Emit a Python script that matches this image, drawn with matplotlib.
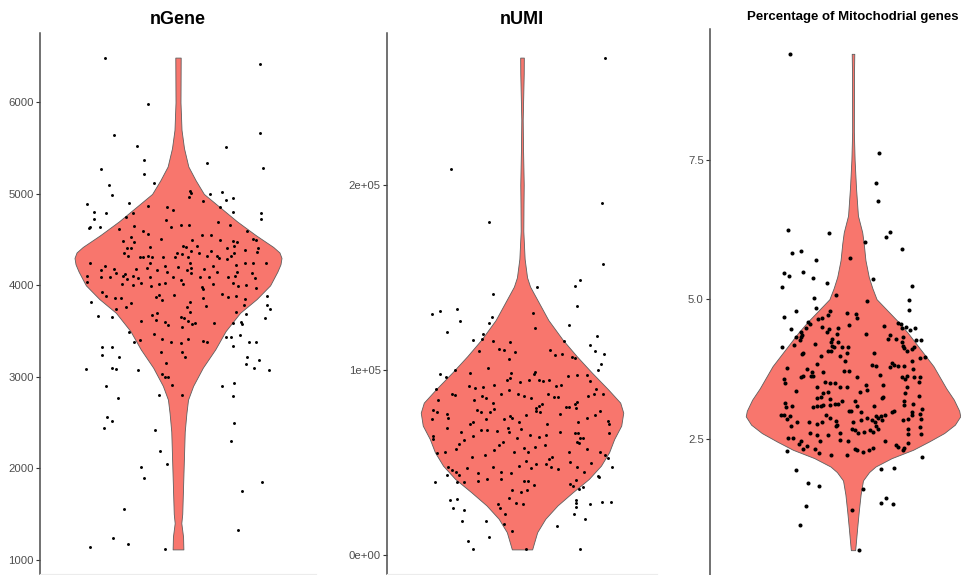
import numpy as np
import matplotlib
matplotlib.use("Agg")
import matplotlib.pyplot as plt

plt.rcParams['font.family'] = ['Liberation Sans', 'DejaVu Sans']

# ---------------------------------------------------------------------------
# Per-cell QC metrics: (horizontal jitter offset, value)
# ---------------------------------------------------------------------------
ngene_cells = [
    (-0.317, 6491), (0.355, 6425), (-0.132, 5978), (-0.277, 5647), (0.357, 5669), (-0.180, 5527),
    (0.210, 5516), (-0.149, 5371), (0.125, 5335), (-0.336, 5273), (0.370, 5280), (-0.148, 5222),
    (-0.103, 5120), (-0.300, 5095), (-0.286, 4993), (0.052, 5029), (0.058, 5007), (0.046, 4971),
    (0.138, 5000), (0.191, 5025), (0.238, 4960), (0.210, 4935), (-0.397, 4891), (-0.212, 4902),
    (0.110, 4920), (0.359, 4789), (-0.132, 4869), (-0.049, 4855), (-0.023, 4822), (0.181, 4862),
    (-0.365, 4800), (-0.314, 4789), (-0.194, 4789), (-0.228, 4749), (0.241, 4800), (0.359, 4727),
    (-0.365, 4727), (-0.383, 4633), (-0.388, 4622), (-0.339, 4633), (-0.257, 4615), (-0.051, 4716),
    (-0.030, 4633), (0.014, 4662), (0.048, 4662), (0.175, 4695), (0.225, 4662), (0.300, 4597),
    (-0.152, 4589), (-0.130, 4567), (-0.193, 4644), (0.104, 4549), (0.142, 4549), (-0.072, 4506),
    (-0.206, 4524), (-0.238, 4487), (-0.190, 4473), (0.062, 4498), (0.326, 4506), (0.338, 4491),
    (0.239, 4480), (0.258, 4473), (0.181, 4498), (0.023, 4425), (0.035, 4418), (0.084, 4425),
    (0.245, 4425), (-0.222, 4404), (-0.206, 4404), (-0.122, 4418), (-0.004, 4353), (0.016, 4346),
    (0.057, 4371), (0.093, 4353), (0.142, 4371), (0.168, 4316), (0.212, 4407), (0.245, 4353),
    (0.293, 4389), (0.346, 4404), (0.345, 4364), (-0.233, 4353), (-0.216, 4316), (-0.167, 4313),
    (-0.151, 4309), (-0.130, 4316), (-0.114, 4309), (-0.067, 4306), (-0.014, 4313), (0.042, 4309),
    (0.126, 4316), (0.177, 4298), (0.213, 4287), (0.230, 4316), (-0.383, 4240), (-0.317, 4207),
    (-0.277, 4178), (-0.120, 4244), (-0.057, 4215), (0.000, 4200), (0.054, 4244), (0.055, 4186),
    (0.112, 4178), (0.154, 4215), (0.252, 4218), (0.290, 4244), (0.326, 4244), (0.384, 4247),
    (-0.333, 4171), (-0.271, 4135), (-0.230, 4127), (-0.184, 4178), (-0.133, 4186), (-0.093, 4171),
    (-0.049, 4149), (0.038, 4164), (0.057, 4135), (0.096, 4091), (0.135, 4091), (0.170, 4149),
    (0.258, 4142), (0.322, 4135), (-0.397, 4106), (-0.336, 4091), (-0.296, 4091), (-0.241, 4106),
    (-0.196, 4098), (-0.220, 4069), (-0.172, 4077), (-0.123, 4091), (-0.022, 4091), (0.014, 4062),
    (0.219, 4091), (0.246, 4098), (0.333, 4084), (-0.397, 4033), (-0.242, 4018), (-0.196, 4004),
    (-0.159, 4026), (-0.116, 3989), (-0.083, 4018), (-0.055, 4029), (0.022, 4011), (0.104, 3982),
    (0.109, 3960), (0.152, 4018), (0.238, 4026), (0.261, 3989), (0.297, 4004), (0.341, 3967),
    (-0.380, 3822), (-0.332, 3931), (-0.314, 3888), (-0.274, 3859), (-0.346, 3663), (-0.286, 3656),
    (-0.271, 3739), (-0.246, 3866), (-0.225, 3765), (-0.203, 3812), (-0.097, 3873), (-0.083, 3895),
    (-0.068, 3837), (-0.016, 3895), (0.052, 3815), (0.041, 3764), (0.110, 3859), (0.123, 3775),
    (0.191, 3909), (0.217, 3873), (0.251, 3880), (0.290, 3851), (0.288, 3786), (0.387, 3880),
    (0.388, 3786), (0.399, 3736), (0.377, 3645), (-0.213, 3493), (-0.193, 3384), (-0.159, 3609),
    (-0.167, 3402), (-0.112, 3674), (-0.093, 3703), (-0.097, 3620), (-0.106, 3464), (-0.070, 3413),
    (-0.055, 3601), (-0.045, 3565), (-0.030, 3377), (0.012, 3656), (0.026, 3638), (0.045, 3612),
    (0.054, 3710), (0.062, 3576), (0.075, 3591), (0.043, 3409), (0.016, 3547), (0.157, 3583),
    (0.109, 3395), (0.126, 3384), (0.210, 3438), (0.232, 3438), (0.239, 3337), (0.239, 3591),
    (0.254, 3710), (0.270, 3457), (0.272, 3601), (0.280, 3572), (0.297, 3692), (0.309, 3377),
    (0.339, 3380), (0.354, 3185), (0.300, 3214), (0.297, 3141), (0.332, 3094), (0.396, 3069),
    (-0.399, 3083), (-0.288, 3326), (-0.329, 3326), (-0.332, 3236), (-0.286, 3101), (-0.268, 3083),
    (-0.257, 3221), (-0.174, 3069), (-0.074, 3268), (-0.054, 3156), (0.029, 3214), (0.012, 3366),
    (0.017, 3275), (-0.068, 3029), (-0.058, 2993), (-0.042, 2993), (-0.025, 2909), (-0.083, 2804),
    (0.017, 2804), (0.193, 2895), (0.242, 2928), (0.239, 2786), (-0.312, 2895), (-0.259, 2765),
    (-0.309, 2558), (-0.288, 2518), (-0.323, 2435), (-0.100, 2420), (-0.078, 2189), (-0.048, 2044),
    (-0.161, 2015), (-0.149, 1888), (0.242, 2496), (0.230, 2301), (0.280, 1754), (0.364, 1848),
    (-0.236, 1554), (-0.283, 1236), (-0.216, 1167), (-0.383, 1138), (-0.055, 1112), (0.259, 1323),
]

numi_cells = [
    (0.370, 268600), (-0.317, 208300), (-0.147, 179700), (0.356, 190300), (0.359, 157300),
    (0.258, 148500), (0.237, 145600), (0.065, 144900), (-0.130, 140800),
    (0.243, 134400), (0.047, 130800), (0.209, 124500), (-0.400, 130300), (-0.366, 131700),
    (-0.287, 132800), (-0.274, 126200), (-0.335, 120400), (-0.147, 125400), (-0.133, 128500),
    (-0.173, 119200), (-0.178, 116800), (-0.219, 116300), (-0.193, 110400), (-0.127, 115900),
    (0.056, 122900), (-0.052, 115200), (0.185, 115900), (0.304, 113400), (0.333, 118300),
    (0.323, 110000), (0.364, 108600), (0.351, 103400), (0.336, 99800), (0.236, 106300),
    (0.221, 107200), (0.124, 110900), (0.145, 107900), (0.176, 108400), (-0.101, 111100),
    (-0.081, 110600), (-0.033, 109800), (-0.058, 105700), (-0.384, 90000), (-0.366, 98000),
    (-0.339, 96200), (-0.299, 100200), (-0.231, 98200), (-0.151, 100900), (-0.050, 98600),
    (-0.055, 95700), (0.058, 98900), (0.055, 97700),
    (-0.311, 87300), (-0.296, 86700), (-0.236, 91400), (-0.207, 90500), (-0.175, 90900),
    (-0.126, 92100), (-0.068, 94400), (-0.007, 93500), (0.031, 94400), (0.076, 94400),
    (0.095, 94100), (0.120, 94400), (0.150, 91400), (0.173, 91800), (0.206, 96800),
    (0.246, 97300), (0.287, 97500), (0.301, 94100), (0.327, 89600), (0.361, 86900), (0.116, 87300),
    (-0.373, 83700), (-0.396, 78500), (-0.378, 77400), (-0.213, 83700), (-0.176, 86000),
    (-0.160, 85100), (-0.130, 82300), (-0.093, 86900), (-0.059, 89200), (-0.016, 86900),
    (0.010, 86000), (0.039, 85100), (0.064, 79700), (0.076, 80600), (0.090, 81900),
    (0.142, 85700), (0.159, 85700), (0.197, 79900), (0.210, 80300), (0.234, 81900),
    (0.246, 83000), (0.293, 86000), (0.320, 87300),
    (-0.333, 76500), (-0.327, 74000), (-0.399, 73500), (-0.231, 71100), (-0.219, 71700),
    (-0.200, 78300), (-0.181, 77100), (-0.159, 73800), (-0.141, 77100), (-0.126, 78800),
    (-0.080, 73800), (-0.052, 75100), (-0.043, 74200), (-0.012, 72000), (0.018, 75800),
    (0.062, 78000), (0.081, 77100), (0.110, 71100), (0.170, 76300), (0.240, 79600),
    (0.250, 72200), (0.290, 74200), (0.326, 75600), (0.345, 77800), (0.384, 72400), (0.388, 70800),
    (-0.332, 68600), (-0.270, 66700), (-0.219, 64500), (-0.184, 67900), (-0.154, 67700),
    (-0.110, 67200), (-0.061, 68500), (-0.058, 66300), (-0.022, 63100), (-0.003, 68100),
    (0.037, 64900), (0.077, 63600), (0.107, 65200), (0.169, 66300), (0.234, 65900),
    (0.250, 65900), (0.259, 63100), (0.271, 63100), (0.385, 65900), (-0.397, 64500), (-0.396, 62700),
    (-0.281, 60000), (-0.256, 62400), (-0.222, 53000), (-0.166, 54300), (-0.126, 57000),
    (-0.101, 59700), (-0.084, 61300), (-0.034, 55600), (0.007, 58100), (0.028, 55600),
    (0.056, 58200), (0.101, 59700), (0.132, 52900), (0.121, 52000), (0.207, 55600),
    (0.244, 60900), (0.253, 60400), (0.289, 57300), (0.347, 55600), (0.370, 54100),
    (0.382, 52500), (-0.378, 55400), (-0.344, 55700), (-0.295, 57200),
    (-0.327, 47500), (-0.313, 46200), (-0.295, 45200), (-0.279, 43400), (-0.332, 43400),
    (-0.243, 47000), (-0.197, 44300), (-0.156, 41200), (-0.127, 47800), (-0.092, 45200),
    (-0.050, 44300), (-0.012, 48400), (0.016, 51100), (0.041, 47300), (0.062, 49300),
    (0.108, 49300), (0.130, 47500), (0.160, 46400), (0.212, 50500), (0.244, 47800),
    (0.274, 44800), (0.305, 49800), (0.338, 43000), (0.342, 42100), (0.399, 47500), (-0.385, 39800),
    (-0.290, 39400), (-0.256, 39800), (-0.196, 40300), (-0.095, 41200), (0.007, 40000),
    (0.028, 40100), (0.053, 37800), (-0.003, 34400), (-0.044, 35500), (0.024, 35500),
    (0.212, 38500), (0.240, 40700), (0.270, 36700), (0.255, 36000), (0.228, 37600),
    (-0.321, 29900), (-0.290, 30300), (-0.307, 25400), (-0.258, 24400), (-0.108, 27800),
    (-0.096, 25800), (-0.056, 31000), (-0.025, 28100), (-0.077, 22200), (0.006, 27600),
    (0.239, 29900), (0.241, 28300), (0.241, 26300), (0.302, 27600), (0.356, 29000),
    (0.397, 28700), (0.230, 22400), (0.281, 19700), (-0.265, 18300), (-0.160, 18300),
    (-0.081, 16800), (-0.148, 9700), (-0.044, 13100), (0.154, 16100), (-0.239, 7700),
    (-0.216, 3200), (0.018, 3200), (0.259, 3200),
]

mito_cells = [
    (-0.263, 9.40), (0.108, 7.62), (0.097, 7.09), (0.105, 6.76), (-0.272, 6.24), (-0.102, 6.18),
    (0.157, 6.21), (0.137, 6.12), (0.050, 6.02), (-0.220, 5.86), (-0.254, 5.82), (0.206, 5.90),
    (-0.154, 5.71), (-0.011, 5.74), (-0.211, 5.49), (-0.291, 5.47), (-0.270, 5.41), (-0.168, 5.38),
    (0.085, 5.37), (-0.109, 5.29), (-0.297, 5.21), (0.249, 5.24), (-0.071, 5.08), (-0.162, 5.03),
    (0.059, 4.97), (0.234, 4.98), (0.234, 4.81), (-0.241, 4.79), (-0.290, 4.69), (-0.154, 4.85),
    (-0.098, 4.78), (-0.104, 4.71), (-0.027, 4.76), (0.013, 4.74), (0.015, 4.67), (-0.132, 4.66),
    (-0.147, 4.65), (-0.190, 4.60), (-0.181, 4.56), (-0.199, 4.49), (-0.217, 4.41), (-0.213, 4.36),
    (-0.261, 4.47), (-0.129, 4.50), (-0.099, 4.47), (-0.111, 4.42), (-0.062, 4.48), (-0.067, 4.38),
    (-0.088, 4.29), (-0.094, 4.23), (-0.062, 4.23), (-0.087, 4.16), (-0.094, 4.08), (-0.078, 4.15),
    (-0.015, 4.54), (0.056, 4.38), (0.130, 4.52), (0.190, 4.58), (0.200, 4.55), (0.204, 4.48),
    (0.224, 4.50), (0.238, 4.44), (0.261, 4.49), (0.265, 4.27), (0.284, 4.27), (0.155, 4.35),
    (0.181, 4.29), (0.211, 4.33), (0.204, 4.23), (0.211, 4.17), (0.216, 4.12), (0.225, 4.08),
    (0.246, 4.11), (0.256, 4.14), (0.146, 4.29), (-0.241, 4.33), (-0.218, 4.33), (-0.223, 4.26),
    (-0.248, 4.18), (-0.296, 4.15), (-0.209, 4.04), (-0.213, 4.01), (-0.160, 4.19), (-0.136, 3.98),
    (-0.106, 4.08), (-0.046, 4.14), (-0.020, 4.15), (-0.024, 4.04), (-0.034, 3.90), (-0.056, 3.98),
    (0.088, 4.03), (0.078, 3.82), (0.095, 3.81), (-0.015, 3.72), (-0.036, 3.71), (-0.151, 3.83),
    (-0.171, 3.69), (-0.195, 3.74), (-0.167, 3.63), (-0.125, 3.69), (-0.275, 3.76), (-0.291, 3.57),
    (-0.287, 3.49), (-0.218, 3.60), (-0.211, 3.63), (-0.178, 3.62), (0.015, 3.60), (0.112, 3.65),
    (0.164, 3.86), (0.172, 3.82), (0.190, 3.81), (0.213, 3.80), (0.155, 3.78), (0.246, 3.90),
    (0.252, 3.75), (0.282, 3.95), (0.303, 3.96), (-0.150, 3.43), (-0.118, 3.52), (-0.097, 3.50),
    (-0.074, 3.50), (-0.126, 3.31), (-0.106, 3.34), (-0.241, 3.35), (-0.053, 3.43), (-0.024, 3.43),
    (0.053, 3.47), (0.057, 3.38), (0.029, 3.34), (0.127, 3.47), (0.127, 3.24), (0.207, 3.60),
    (0.218, 3.57), (0.227, 3.63), (0.225, 3.43), (0.220, 3.31), (0.258, 3.61), (0.282, 3.60),
    (0.276, 3.27), (0.276, 3.52), (-0.136, 3.25), (-0.150, 3.22), (-0.095, 3.21), (-0.076, 3.12),
    (-0.287, 3.14), (-0.283, 3.07), (-0.255, 3.08), (-0.169, 3.07), (-0.150, 3.08), (-0.136, 3.09),
    (-0.126, 3.11), (-0.097, 3.10), (-0.063, 3.13), (-0.048, 3.18), (0.008, 3.17), (0.018, 3.08),
    (0.088, 3.09), (0.120, 3.22), (0.174, 3.00), (0.216, 3.17), (0.214, 3.11), (0.251, 3.12),
    (0.289, 3.03), (-0.300, 2.93), (-0.289, 2.92), (-0.276, 2.86), (-0.265, 2.91), (-0.237, 2.80),
    (-0.183, 2.80), (-0.151, 2.77), (-0.132, 2.79), (-0.113, 2.93), (-0.097, 2.87), (-0.073, 2.81),
    (-0.069, 2.74), (-0.017, 3.00), (-0.008, 2.99), (0.001, 2.80), (0.034, 2.97), (0.032, 2.84),
    (0.060, 2.87), (0.078, 2.83), (0.092, 2.80), (0.097, 2.91), (0.106, 2.87), (0.116, 2.91),
    (0.122, 2.83), (0.133, 2.92), (0.164, 2.98), (0.211, 2.83), (0.232, 2.86), (0.249, 2.92),
    (0.248, 2.97), (0.282, 2.95), (0.286, 2.86), (0.282, 2.71), (0.284, 2.59), (-0.261, 2.73),
    (-0.272, 2.52), (-0.251, 2.52), (-0.218, 2.46), (-0.225, 2.41), (-0.211, 2.32), (-0.192, 2.36),
    (-0.181, 2.61), (-0.150, 2.57), (-0.139, 2.45), (-0.160, 2.31), (-0.144, 2.24), (-0.104, 2.57),
    (-0.071, 2.73), (-0.053, 2.60), (-0.055, 2.48), (-0.022, 2.46), (-0.006, 2.68), (0.010, 2.65),
    (0.022, 2.61), (0.046, 2.62), (0.071, 2.65), (0.083, 2.62), (0.095, 2.73), (0.104, 2.68),
    (0.010, 2.32), (0.015, 2.30), (0.043, 2.26), (0.067, 2.29), (0.084, 2.33), (0.133, 2.45),
    (0.179, 2.38), (0.190, 2.35), (0.209, 2.29), (0.214, 2.34), (0.230, 2.58), (0.232, 2.67),
    (0.231, 2.42), (-0.279, 2.28), (-0.092, 2.20), (-0.024, 2.20), (0.290, 2.17),
    (-0.238, 1.94), (-0.189, 1.70), (-0.143, 1.65), (-0.197, 1.30), (-0.224, 0.96), (0.118, 1.95),
    (0.171, 1.97), (0.041, 1.60), (0.140, 1.44), (0.116, 1.35), (0.168, 1.32), (-0.006, 1.22),
    (0.025, 0.50),
]

# Violin density profiles: value level -> density relative to the panel's peak
ngene_density_levels = [1112, 1250, 1400, 1500, 1800, 2100, 2400, 2600, 2750, 2900, 3100, 3300,
                        3500, 3700, 3850, 4000, 4150, 4230, 4300, 4360, 4420, 4550, 4700, 4850,
                        5000, 5150, 5300, 5500, 5700, 6000, 6491]
ngene_density = [0.052, 0.049, 0.032, 0.041, 0.049, 0.057, 0.065, 0.081, 0.097, 0.146, 0.24, 0.36,
                 0.46, 0.60, 0.76, 0.89, 0.96, 0.99, 1.0, 0.98, 0.92, 0.75, 0.57, 0.41,
                 0.25, 0.17, 0.10, 0.058, 0.034, 0.024, 0.026]

numi_density_levels = [3200, 12500, 19700, 26900, 34000, 41200, 48400, 55600, 62700, 70000, 77000,
                       82400, 89600, 98600, 107500, 116500, 127000, 138000, 145000, 150000,
                       160000, 175000, 190000, 200000, 220000, 235000, 260000, 268600]
numi_density = [0.10, 0.15, 0.23, 0.35, 0.50, 0.66, 0.78, 0.86, 0.91, 0.98, 1.0,
                0.97, 0.85, 0.69, 0.54, 0.40, 0.26, 0.15, 0.08, 0.05,
                0.026, 0.013, 0.015, 0.017, 0.010, 0.007, 0.017, 0.018]

mito_density_levels = [0.50, 0.6, 0.9, 1.2, 1.5, 1.75, 1.9, 2.0, 2.15, 2.3, 2.45, 2.6, 2.75, 2.9,
                       3.0, 3.2, 3.4, 3.6, 3.8, 4.0, 4.2, 4.4, 4.6, 4.8, 5.0, 5.2, 5.4, 5.7,
                       6.0, 6.2, 6.5, 7.0, 7.5, 8.0, 9.0, 9.40]
mito_density = [0.02, 0.025, 0.039, 0.054, 0.071, 0.093, 0.15, 0.21, 0.36, 0.56, 0.71, 0.85, 0.95, 1.0,
                0.99, 0.94, 0.87, 0.81, 0.75, 0.67, 0.59, 0.51, 0.42, 0.32, 0.22, 0.18, 0.147, 0.116,
                0.10, 0.086, 0.046, 0.028, 0.015, 0.008, 0.009, 0.012]

panel_titles = ["nGene", "nUMI", "Percentage of Mitochodrial genes"]
ngene_ticks = [1000, 2000, 3000, 4000, 5000, 6000]
numi_ticks = [0, 100000, 200000]
numi_tick_labels = ["0e+00", "1e+05", "2e+05"]
mito_ticks = [2.5, 5.0, 7.5]
mito_tick_labels = ["2.5", "5.0", "7.5"]

# ---------------------------------------------------------------------------
FIG_W, FIG_H = 962, 575
VIOLIN_FILL = "#F8766D"
TEXT_GREY = "#4D4D4D"

fig = plt.figure(figsize=(FIG_W / 100, FIG_H / 100), dpi=100)


def px_axes(left, right, top, bottom):
    """Create an axes from pixel edges (origin at the top-left corner)."""
    return fig.add_axes([left / FIG_W, 1 - bottom / FIG_H,
                         (right - left) / FIG_W, (bottom - top) / FIG_H])


def draw_panel(ax, cells, levels, density, dot_size, title, title_size, title_y,
               ticks, tick_labels=None, bottom_line=True):
    offs = np.array([c[0] for c in cells], dtype=float)
    vals = np.array([c[1] for c in cells], dtype=float)

    # violin body: full width 0.9 at the density peak
    lev = np.asarray(levels, dtype=float)
    half = 0.45 * np.asarray(density, dtype=float)
    ax.fill_betweenx(lev, 1 - half, 1 + half, facecolor=VIOLIN_FILL,
                     edgecolor="#5e5e5e", linewidth=0.6, zorder=2)

    ax.scatter(1 + offs, vals, s=dot_size, color="black", linewidths=0, zorder=3)

    span = vals.max() - vals.min()
    ax.set_ylim(vals.min() - 0.05 * span, vals.max() + 0.05 * span)
    ax.set_xlim(0.4, 1.6)
    ax.set_xticks([])
    ax.set_yticks(ticks)
    if tick_labels is not None:
        ax.set_yticklabels(tick_labels)
    ax.tick_params(axis="y", length=3, width=0.8, color="#333333", pad=1.5,
                   labelsize=8.2, labelcolor=TEXT_GREY)
    for side in ("top", "right"):
        ax.spines[side].set_visible(False)
    ax.spines["left"].set_color("#4a4a4a")
    ax.spines["left"].set_linewidth(1.1)
    if bottom_line:
        ax.spines["bottom"].set_color("#ececec")
        ax.spines["bottom"].set_linewidth(0.8)
    else:
        ax.spines["bottom"].set_visible(False)
    ax.patch.set_alpha(0)

    # panel title centred over the violin
    bbox = ax.get_position()
    cx = bbox.x0 + bbox.width / 2
    fig.text(cx, 1 - title_y / FIG_H, title, ha="center", va="center",
             fontsize=title_size, fontweight="bold", color="black")


ax1 = px_axes(40, 316, 33, 574)
draw_panel(ax1, ngene_cells, ngene_density_levels, ngene_density, 4.5,
           panel_titles[0], 13, 20, ngene_ticks)

ax2 = px_axes(387, 657, 33, 574)
draw_panel(ax2, numi_cells, numi_density_levels, numi_density, 4.5,
           panel_titles[1], 13, 20, numi_ticks, numi_tick_labels)

ax3 = px_axes(710, 996, 29, 575)
draw_panel(ax3, mito_cells, mito_density_levels, mito_density, 8.5,
           panel_titles[2], 9.5, 17, mito_ticks, mito_tick_labels, bottom_line=False)

fig.savefig("out.png", dpi=100)
